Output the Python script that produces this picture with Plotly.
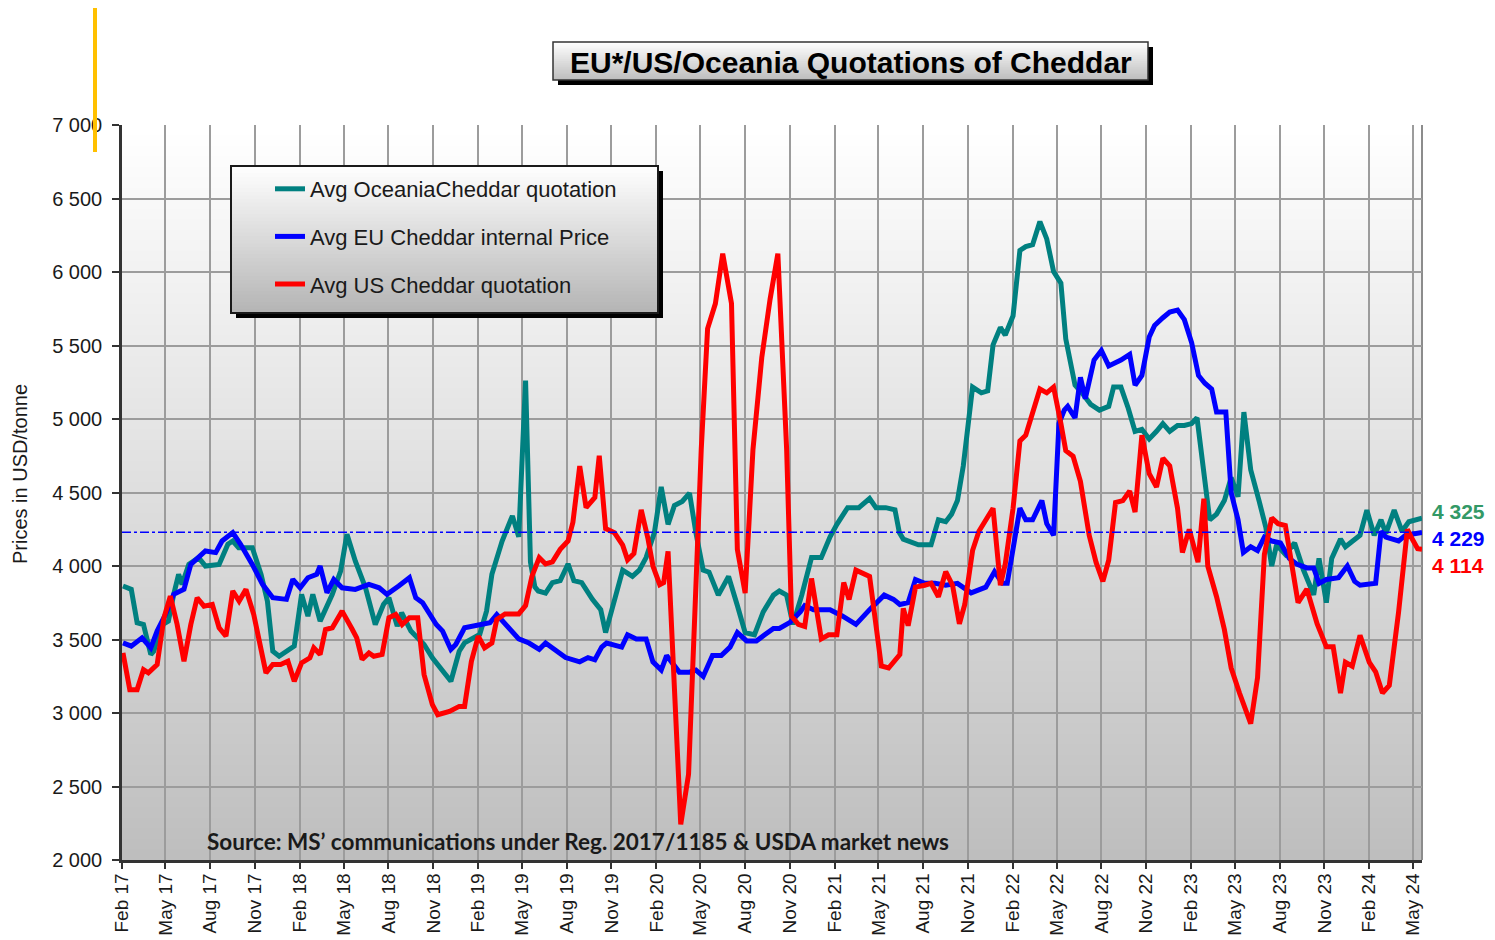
import plotly.graph_objects as go

# ---------------- data ----------------
oce_dates = ["2017-02-03","2017-02-20","2017-03-04","2017-03-17","2017-04-01","2017-04-07","2017-04-24","2017-05-07",
"2017-05-18","2017-05-28","2017-06-04","2017-06-18","2017-07-08","2017-07-22","2017-08-19","2017-09-06","2017-09-16",
"2017-09-28","2017-10-26","2017-11-13","2017-11-26","2017-12-07","2017-12-20","2018-01-04","2018-01-20","2018-02-04",
"2018-02-17","2018-02-27","2018-03-14","2018-04-08","2018-04-25","2018-05-08","2018-05-25","2018-06-15","2018-07-05",
"2018-07-22","2018-08-02","2018-08-19","2018-08-28","2018-09-16","2018-10-13","2018-10-30","2018-12-07","2018-12-24",
"2019-01-04","2019-02-04","2019-02-18","2019-03-01","2019-03-22","2019-04-12","2019-04-25","2019-05-09","2019-05-19",
"2019-05-28","2019-06-04","2019-06-19","2019-07-03","2019-07-19","2019-08-04","2019-08-16","2019-09-01","2019-09-23",
"2019-10-10","2019-10-20","2019-11-07","2019-11-24","2019-12-14","2019-12-28","2020-01-11","2020-01-28","2020-02-11",
"2020-02-25","2020-03-09","2020-03-25","2020-04-09","2020-04-22","2020-05-07","2020-05-19","2020-06-07","2020-06-28",
"2020-07-16","2020-08-01","2020-08-20","2020-09-07","2020-09-28","2020-10-10","2020-10-25","2020-11-07","2020-11-25",
"2020-12-15","2021-01-04","2021-01-22","2021-02-05","2021-02-27","2021-03-22","2021-04-13","2021-04-26","2021-05-16",
"2021-06-04","2021-06-13","2021-06-21","2021-07-04","2021-07-22","2021-08-17","2021-09-01","2021-09-16","2021-09-28",
"2021-10-10","2021-10-22","2021-11-10","2021-11-28","2021-12-11","2021-12-22","2022-01-06","2022-01-16","2022-02-01",
"2022-02-15","2022-02-27","2022-03-13","2022-03-28","2022-04-11","2022-04-25","2022-05-10","2022-05-20","2022-06-01",
"2022-06-08","2022-06-22","2022-07-10","2022-07-28","2022-08-16","2022-08-26","2022-09-10","2022-09-25","2022-10-09",
"2022-10-23","2022-11-07","2022-11-22","2022-12-05","2022-12-19","2023-01-04","2023-01-18","2023-02-02","2023-02-13",
"2023-02-27","2023-03-11","2023-03-25","2023-04-10","2023-04-24","2023-05-08","2023-05-20","2023-06-03","2023-06-20",
"2023-07-04","2023-07-16","2023-07-26","2023-08-13","2023-09-01","2023-09-19","2023-10-10","2023-10-21","2023-11-05",
"2023-11-16","2023-12-04","2023-12-14","2024-01-13","2024-01-27","2024-02-11","2024-02-25","2024-03-06","2024-03-23",
"2024-04-08","2024-04-22","2024-05-07","2024-05-19"]
oce_vals = [3864,3841,3614,3602,3398,3420,3600,3625,
3807,3943,3875,4011,4057,4000,4011,4148,4170,
4125,4125,3943,3761,3420,3386,3420,3455,3807,
3659,3807,3625,3807,3966,4216,4034,3852,3602,
3739,3784,3591,3682,3557,3466,3375,3216,3420,
3477,3534,3693,3943,4170,4341,4198,5262,4028,
3858,3830,3816,3887,3901,4014,3901,3887,3773,
3703,3547,3773,3972,3929,3972,4057,4227,4538,
4283,4411,4439,4496,4227,3972,3958,3802,3929,
3731,3547,3532,3688,3802,3830,3802,3603,3802,
4057,4057,4198,4283,4397,4397,4459,4397,4397,
4382,4227,4183,4170,4144,4144,4314,4301,4353,
4445,4681,5217,5178,5191,5505,5623,5571,5702,
6147,6173,6186,6343,6225,6003,5924,5545,5335,
5230,5178,5100,5060,5086,5217,5217,5073,4916,
4929,4864,4916,4969,4916,4956,4956,4969,5008,
4654,4314,4353,4445,4602,4471,5047,4654,4445,
4262,4000,4144,4079,4157,3974,3804,4052,3751,
4052,4183,4131,4209,4380,4209,4314,4222,4380,
4236,4301,4314,4325]

eu_dates = ["2017-02-03","2017-02-20","2017-03-14","2017-04-01","2017-04-14","2017-05-01","2017-05-18","2017-06-08",
"2017-06-22","2017-07-08","2017-07-22","2017-08-12","2017-08-25","2017-09-16","2017-10-02","2017-10-26","2017-11-16",
"2017-12-07","2018-01-04","2018-01-17","2018-02-01","2018-02-17","2018-03-07","2018-03-14","2018-03-28","2018-04-11",
"2018-04-28","2018-05-25","2018-06-22","2018-07-13","2018-07-29","2018-08-22","2018-09-13","2018-09-26","2018-10-10",
"2018-11-07","2018-11-20","2018-12-07","2018-12-17","2019-01-04","2019-01-21","2019-02-11","2019-02-25","2019-03-11",
"2019-03-28","2019-04-25","2019-05-16","2019-06-06","2019-06-19","2019-07-07","2019-07-30","2019-08-28","2019-09-14",
"2019-09-28","2019-10-12","2019-10-22","2019-11-07","2019-11-22","2019-12-04","2019-12-22","2020-01-11","2020-01-25",
"2020-02-11","2020-02-22","2020-03-19","2020-04-09","2020-04-22","2020-05-07","2020-05-26","2020-06-13","2020-07-01",
"2020-07-16","2020-08-04","2020-08-24","2020-09-10","2020-09-28","2020-10-10","2020-11-01","2020-11-22","2020-12-01",
"2020-12-19","2021-01-22","2021-02-16","2021-03-16","2021-04-13","2021-05-13","2021-06-01","2021-06-14","2021-07-01",
"2021-07-16","2021-08-04","2021-08-25","2021-09-16","2021-10-10","2021-11-07","2021-12-07","2021-12-25","2022-01-10",
"2022-01-20","2022-02-15","2022-02-27","2022-03-13","2022-04-01","2022-04-11","2022-04-25","2022-05-06","2022-05-17",
"2022-05-24","2022-06-08","2022-06-19","2022-06-29","2022-07-17","2022-08-01","2022-08-16","2022-09-10","2022-09-28",
"2022-10-09","2022-10-23","2022-11-07","2022-11-18","2022-12-05","2022-12-19","2023-01-04","2023-01-18","2023-02-02",
"2023-02-16","2023-03-01","2023-03-15","2023-03-25","2023-04-13","2023-04-24","2023-05-08","2023-05-19","2023-06-03",
"2023-06-17","2023-07-01","2023-07-16","2023-08-03","2023-08-21","2023-09-05","2023-09-26","2023-10-10","2023-10-21",
"2023-11-05","2023-11-30","2023-12-18","2024-01-02","2024-01-13","2024-02-14","2024-02-25","2024-03-06","2024-04-01",
"2024-04-15","2024-05-19"]
eu_vals = [3477,3455,3511,3443,3557,3670,3807,3841,
4011,4057,4102,4091,4170,4227,4148,4011,3875,
3784,3773,3909,3852,3920,3943,4000,3818,3909,
3852,3841,3875,3852,3807,3864,3920,3784,3750,
3602,3557,3432,3466,3580,3591,3602,3614,3670,
3603,3504,3476,3433,3476,3433,3377,3348,3377,
3362,3448,3476,3462,3448,3532,3504,3504,3348,
3292,3391,3278,3278,3292,3249,3391,3391,3448,
3547,3490,3490,3532,3575,3575,3617,3688,3731,
3703,3703,3660,3603,3703,3802,3773,3738,3751,
3908,3882,3882,3869,3882,3817,3856,3961,3882,
3882,4393,4314,4314,4445,4288,4209,4969,5060,
5086,5008,5283,5139,5401,5466,5361,5401,5440,
5230,5296,5558,5636,5689,5728,5741,5676,5518,
5296,5243,5204,5047,5047,4497,4314,4092,4131,
4105,4196,4170,4157,4052,4013,3987,3987,3882,
3908,3921,4000,3895,3869,3882,4236,4196,4170,
4209,4229]

us_dates = ["2017-02-03","2017-02-17","2017-03-04","2017-03-17","2017-03-27","2017-04-14","2017-04-28","2017-05-11",
"2017-05-25","2017-06-08","2017-06-22","2017-07-05","2017-07-19","2017-08-05","2017-08-19","2017-09-02","2017-09-16",
"2017-09-29","2017-10-13","2017-10-29","2017-11-23","2017-12-07","2017-12-23","2018-01-07","2018-01-20","2018-02-04",
"2018-02-21","2018-03-01","2018-03-14","2018-03-25","2018-04-08","2018-04-28","2018-05-19","2018-05-28","2018-06-08",
"2018-06-22","2018-07-02","2018-07-19","2018-08-02","2018-08-16","2018-08-29","2018-09-13","2018-09-30","2018-10-13",
"2018-10-30","2018-11-10","2018-12-04","2018-12-24","2019-01-04","2019-01-18","2019-02-01","2019-02-14","2019-03-01",
"2019-03-11","2019-03-28","2019-04-25","2019-05-09","2019-05-22","2019-06-06","2019-06-19","2019-07-03","2019-07-19",
"2019-08-04","2019-08-14","2019-08-28","2019-09-10","2019-09-28","2019-10-07","2019-10-20","2019-11-07","2019-11-24",
"2019-12-04","2019-12-17","2020-01-01","2020-01-15","2020-01-25","2020-02-08","2020-02-16","2020-02-25","2020-03-09",
"2020-03-22","2020-04-07","2020-04-19","2020-05-03","2020-05-16","2020-06-01","2020-06-16","2020-07-04","2020-07-16",
"2020-08-01","2020-08-17","2020-09-04","2020-09-21","2020-10-07","2020-10-25","2020-11-04","2020-11-18","2020-12-01",
"2020-12-15","2021-01-04","2021-01-19","2021-02-05","2021-02-19","2021-03-02","2021-03-16","2021-04-13","2021-05-07",
"2021-05-22","2021-06-14","2021-06-21","2021-07-01","2021-07-16","2021-08-04","2021-08-17","2021-09-01","2021-09-16",
"2021-09-30","2021-10-14","2021-10-25","2021-11-10","2021-11-23","2021-12-07","2021-12-22","2022-01-06","2022-01-16",
"2022-02-01","2022-02-15","2022-02-27","2022-03-13","2022-03-28","2022-04-11","2022-04-25","2022-05-10","2022-05-20",
"2022-06-04","2022-06-19","2022-07-07","2022-07-21","2022-08-04","2022-08-16","2022-08-30","2022-09-14","2022-09-28",
"2022-10-09","2022-10-23","2022-11-07","2022-11-22","2022-12-05","2022-12-19","2023-01-04","2023-01-14","2023-01-28",
"2023-02-15","2023-02-27","2023-03-07","2023-03-25","2023-04-10","2023-04-24","2023-05-11","2023-06-03","2023-06-17",
"2023-07-01","2023-07-16","2023-07-29","2023-08-13","2023-08-28","2023-09-08","2023-09-26","2023-10-17","2023-11-05",
"2023-11-19","2023-12-04","2023-12-14","2023-12-28","2024-01-13","2024-02-01","2024-02-14","2024-02-28","2024-03-13",
"2024-04-01","2024-04-19","2024-04-29","2024-05-10","2024-05-19"]
us_vals = [3409,3159,3159,3295,3273,3330,3648,3795,
3602,3352,3602,3784,3727,3739,3580,3523,3830,
3761,3841,3670,3273,3330,3330,3352,3216,3341,
3375,3443,3398,3568,3580,3693,3568,3511,3364,
3409,3386,3398,3648,3670,3602,3648,3648,3261,
3057,2988,3011,3045,3045,3352,3523,3443,3477,
3636,3674,3674,3731,3929,4057,4014,4028,4113,
4170,4297,4680,4397,4467,4750,4255,4227,4142,
4042,4085,4382,4184,4000,3873,3887,4099,3093,
2243,2583,3660,4793,5615,5785,6125,5785,4113,
3816,4793,5417,5813,6125,4793,3660,3603,3589,
3915,3504,3532,3532,3887,3773,3972,3929,3320,
3306,3398,3712,3594,3856,3869,3882,3791,3961,
3869,3607,3738,4105,4236,4314,4393,3869,4013,
4393,4851,4890,5047,5204,5178,5217,4969,4785,
4746,4576,4209,4026,3895,4039,4432,4445,4510,
4367,4890,4628,4537,4733,4681,4393,4092,4249,
4026,4458,4000,3791,3568,3306,3136,2927,3241,
4079,4327,4288,4275,3974,3751,3843,3607,3450,
3450,3136,3345,3319,3529,3345,3280,3136,3188,
3686,4249,4183,4118,4114]

series_names = ["Avg OceaniaCheddar quotation", "Avg EU Cheddar internal Price", "Avg US Cheddar quotation"]
line_colors = ["#008080", "#0000FF", "#FF0000"]
label_colors = ["#339966", "#0000FF", "#FF0000"]

title_text = "EU*/US/Oceania Quotations of Cheddar"
source_text = "Source: MS\u2019 communications under Reg. 2017/1185 &amp; USDA market news"
y_title = "Prices in USD/tonne"
y_range = [2000, 7000]
x_range = ["2017-02-01", "2024-05-19"]

# ---------------- layout geometry helpers (page pixels -> paper) ----------------
OFF = 8                      # page body margin in the rendered html
W, H = 1495 - OFF, 940 - OFF
L, T = 122 - OFF, 125 - OFF
PW, PH = 1300, 735
R, B = W - L - PW, H - T - PH


def px(x):
    return (x - OFF - L) / PW


def py(y):
    return (T + PH - (y - OFF)) / PH


def hexmix(c1, c2, t):
    a = [int(c1[i:i + 2], 16) for i in (1, 3, 5)]
    b = [int(c2[i:i + 2], 16) for i in (1, 3, 5)]
    return "#" + "".join(f"{round(a[k] + (b[k] - a[k]) * t):02x}" for k in range(3))


def gradient(x0, x1, y0, y1, top, bottom, n, layer):
    """Vertical gradient made of overlapping bands; y0 is the top (paper coords)."""
    out = []
    step = (y1 - y0) / n
    for i in range(n):
        ya = y0 + step * i
        yb = y0 + step * (i + 1)
        if i < n - 1:
            yb += step * 0.6          # overlap into next band (drawn later) to avoid seams
        out.append(dict(type="rect", xref="paper", yref="paper", x0=x0, x1=x1,
                        y0=ya, y1=yb, fillcolor=hexmix(top, bottom, (i + 0.5) / n),
                        line=dict(width=0), layer=layer))
    return out


fig = go.Figure()
for d, v, name, col in zip([oce_dates, eu_dates, us_dates], [oce_vals, eu_vals, us_vals],
                           series_names, line_colors):
    fig.add_trace(go.Scatter(x=d, y=v, mode="lines", name=name, legendgroup=name,
                             line=dict(color=col, width=5)))

shapes = []
shapes += gradient(0, 1, 1, 0, "#FFFFFF", "#BEBEBE", 70, "below")
shapes.append(dict(type="line", xref="paper", yref="paper", x0=1, x1=1, y0=0, y1=1,
                   line=dict(color="#8C8C8C", width=2), layer="below"))
shapes.append(dict(type="line", xref="paper", yref="y", x0=0, x1=1,
                   y0=eu_vals[-1], y1=eu_vals[-1],
                   line=dict(color="#0000FF", width=1.5, dash="dashdot"), layer="above"))
# legend box: shadow, gradient, border
sh = 5
lx0, lx1, ly0, ly1 = px(231), px(658), py(166), py(313)
shapes.append(dict(type="rect", xref="paper", yref="paper", x0=px(231 + sh), x1=px(658 + sh),
                   y0=py(166 + sh), y1=py(313 + sh), fillcolor="#000000", line=dict(width=0), layer="above"))
shapes += gradient(lx0, lx1, ly0, ly1, "#FFFFFF", "#B4B4B4", 40, "above")
shapes.append(dict(type="rect", xref="paper", yref="paper", x0=lx0, x1=lx1, y0=ly0, y1=ly1,
                   line=dict(color="#1A1A1A", width=2), layer="above"))
# title box: shadow, gradient, border
tx0, tx1, ty0, ty1 = px(553), px(1148), py(42), py(80)
shapes.append(dict(type="rect", xref="paper", yref="paper", x0=px(553 + sh), x1=px(1148 + sh),
                   y0=py(42 + sh), y1=py(80 + sh), fillcolor="#000000", line=dict(width=0), layer="above"))
shapes += gradient(tx0, tx1, ty0, ty1, "#FFFFFF", "#BDBDBD", 20, "above")
shapes.append(dict(type="rect", xref="paper", yref="paper", x0=tx0, x1=tx1, y0=ty0, y1=ty1,
                   line=dict(color="#333333", width=1.5), layer="above"))
# orange marker line at top-left
shapes.append(dict(type="line", xref="paper", yref="paper", x0=px(95), x1=px(95), y0=py(5), y1=py(152),
                   line=dict(color="#FFC000", width=4), layer="above"))

annotations = [
    dict(text=f"<b>{title_text}</b>", xref="paper", yref="paper", x=px(851), y=py(62),
         xanchor="center", yanchor="middle", showarrow=False,
         font=dict(family="Liberation Sans, Arial", size=30, color="#000000")),
    dict(text=f"<b>{source_text}</b>", xref="paper", yref="paper", x=px(205), y=py(841),
         xanchor="left", yanchor="middle", showarrow=False,
         font=dict(family="Lato, Liberation Sans", size=22.5, color="#1A1A1A")),
    dict(text=y_title, xref="paper", yref="paper", x=px(20), y=py(474), textangle=-90,
         xanchor="center", yanchor="middle", showarrow=False,
         font=dict(family="Liberation Sans, Arial", size=20, color="#1A1A1A")),
]
last_vals = [oce_vals[-1], eu_vals[-1], us_vals[-1]]
label_py = [511, 538, 565]
for v, c, yy in zip(last_vals, label_colors, label_py):
    annotations.append(dict(text=f"<b>{v // 1000} {v % 1000:03d}</b>", xref="paper", yref="paper",
                            x=px(1430), y=py(yy), xanchor="left", yanchor="middle", showarrow=False,
                            font=dict(family="Liberation Sans, Arial", size=21, color=c)))

fig.update_layout(
    width=W, height=H, autosize=False,
    margin=dict(l=L, r=R, t=T, b=B, pad=0, autoexpand=False),
    paper_bgcolor="#FFFFFF", plot_bgcolor="#FFFFFF",
    separators=". ",
    showlegend=True,
    legend=dict(x=px(270), y=py(168), xanchor="left", yanchor="top",
                bgcolor="rgba(0,0,0,0)", borderwidth=0, tracegroupgap=16,
                font=dict(family="Liberation Sans, Arial", size=22, color="#1A1A1A"),
                traceorder="grouped"),
    shapes=shapes,
    annotations=annotations,
    xaxis=dict(type="date", range=x_range, tick0="2017-02-01", dtick="M3", tickformat="%b %y",
               tickangle=-90, showgrid=True, gridcolor="#9C9C9C", gridwidth=2,
               showline=True, linecolor="#333333", linewidth=2.5, automargin=False,
               ticks="outside", ticklen=6, tickwidth=2, tickcolor="#333333", ticklabelstandoff=-3,
               tickfont=dict(family="Liberation Sans, Arial", size=19, color="#1A1A1A"),
               zeroline=False),
    yaxis=dict(range=y_range, dtick=500, tickformat=",", showgrid=True, gridcolor="#9C9C9C", gridwidth=2,
               showline=True, linecolor="#333333", linewidth=2.5, automargin=False,
               ticks="outside", ticklen=7, tickwidth=2, tickcolor="#333333", ticklabelstandoff=6,
               tickfont=dict(family="Liberation Sans, Arial", size=20, color="#1A1A1A"),
               zeroline=False),
)

fig.write_html("out.html")
